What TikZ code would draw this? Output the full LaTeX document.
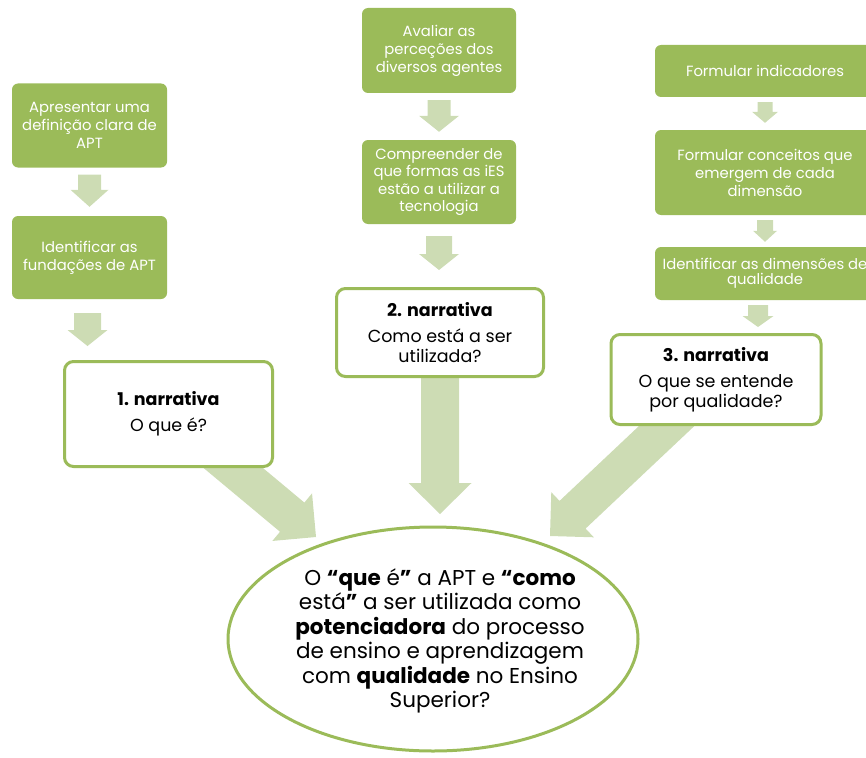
\documentclass[tikz,border=0pt]{standalone}
\usepackage{fontspec}
\setmainfont{Poppins}
\usetikzlibrary{calc,shapes.geometric,backgrounds}

\definecolor{boxgreen}{HTML}{9BBB59}
\definecolor{arrowgreen}{HTML}{CDDCB4}

\tikzset{
  stepbox/.style={rectangle, rounded corners=6pt, fill=boxgreen, text=white,
    align=center, inner sep=2pt,
    font=\fontsize{14.8}{18}\selectfont},
  narrbox/.style={rectangle, rounded corners=9pt, draw=boxgreen, line width=3pt,
    fill=white, text=black, align=center, inner sep=2pt,
    font=\fontsize{17.5}{20}\selectfont},
  goalshape/.style={ellipse, draw=boxgreen, line width=3pt, fill=white, inner sep=0pt},
  arrowfill/.style={fill=arrowgreen},
}

% block arrow: from, to, half shaft width, half head width, head length
\newcommand\blockarrow[5]{%
  \coordinate (ba-h) at ($(#2)!#5!(#1)$);
  \fill[arrowfill] ($(#1)!#3!90:(#2)$) -- ($(ba-h)!#3!90:(#2)$)
    -- ($(ba-h)!#4!90:(#2)$) -- (#2) -- ($(ba-h)!#4!-90:(#2)$)
    -- ($(ba-h)!#3!-90:(#2)$) -- ($(#1)!#3!-90:(#2)$) -- cycle;
}

\begin{document}
\begin{tikzpicture}[x=1pt,y=-1pt]
\useasboundingbox (0,0) rectangle (866,757);
\clip (0,0) rectangle (866,757);

% first column
\node[stepbox, minimum width=155pt, minimum height=84pt] (A1) at (89.5,125.5)
  {Apresentar uma\\definição clara de\\APT};
\node[stepbox, minimum width=155pt, minimum height=83pt] (A2) at (89.5,257.5)
  {Identificar as\\fundações de APT};
\node[narrbox, minimum width=208pt, minimum height=105pt] (N1) at (168.5,414)
  {\textbf{1. narrativa}\\[6pt]O que é?};

% second column
\node[stepbox, minimum width=154pt, minimum height=85pt] (B1) at (439,50.5)
  {Avaliar as\\perceções dos\\diversos agentes};
\node[stepbox, minimum width=154pt, minimum height=84pt, font=\fontsize{14.8}{17.3}\selectfont] (B2) at (439,182)
  {Compreender de\\que formas as iES\\estão a utilizar a\\tecnologia};
\node[narrbox, minimum width=207pt, minimum height=88pt] (N2) at (440,332.5)
  {\textbf{2. narrativa}\\[6pt]Como está a ser\\utilizada?};

% third column
\node[stepbox, minimum width=220pt, minimum height=52pt] (C1) at (765,71)
  {Formular indicadores};
\node[stepbox, minimum width=220pt, minimum height=85pt] (C2) at (765,172.5)
  {Formular conceitos que\\emergem de cada\\dimensão};
\node[stepbox, minimum width=220pt, minimum height=53pt, font=\fontsize{14.8}{15.5}\selectfont] (C3) at (765,273.5)
  {Identificar as dimensões de\\qualidade};
\node[narrbox, minimum width=210pt, minimum height=90pt] (N3) at (716,379.5)
  {\textbf{3. narrativa}\\[6pt]O que se entende\\por qualidade?};

% central question
\node[goalshape, minimum width=410pt, minimum height=224pt] (E) at (433,639) {};
\node[align=center, font=\fontsize{21.5}{24.5}\selectfont] (Et) at (440,641)
  {O \textbf{“que} é\textbf{”} a APT e \textbf{“como}\\
   está\textbf{”} a ser utilizada como\\
   \textbf{potenciadora} do processo\\
   de ensino e aprendizagem\\
   com \textbf{qualidade} no Ensino\\
   Superior?};

% small arrows between steps
\coordinate (a1s) at ([yshift=-7pt]A1.south);
\coordinate (a1e) at ([yshift=9pt]A2.north);
\blockarrow{a1s}{a1e}{11.5pt}{19pt}{17pt}
\coordinate (a2s) at ([xshift=-2pt,yshift=-14pt]A2.south);
\coordinate (a2e) at ([yshift=14pt]a2s |- N1.north);
\blockarrow{a2s}{a2e}{13.5pt}{20pt}{16pt}

\coordinate (b1s) at ([yshift=-7pt]B1.south);
\coordinate (b1e) at ([yshift=8pt]B2.north);
\blockarrow{b1s}{b1e}{11.5pt}{20pt}{16pt}
\coordinate (b2s) at ([yshift=-12pt]B2.south);
\coordinate (b2e) at ([yshift=17pt]b2s |- N2.north);
\blockarrow{b2s}{b2e}{13pt}{20pt}{16pt}

\coordinate (c1s) at ([yshift=-5pt]C1.south);
\coordinate (c1e) at ([yshift=7pt]C2.north);
\blockarrow{c1s}{c1e}{7.5pt}{13pt}{11pt}
\coordinate (c2s) at ([yshift=-5pt]C2.south);
\coordinate (c2e) at ([yshift=5pt]C3.north);
\blockarrow{c2s}{c2e}{8pt}{12pt}{11pt}
\coordinate (c3s) at ([xshift=-7pt,yshift=-5pt]C3.south);
\coordinate (c3e) at ([yshift=6pt]c3s |- N3.north);
\blockarrow{c3s}{c3e}{10pt}{15.5pt}{11pt}

% large arrows from the narratives into the question
\coordinate (t1) at (316,537);
\coordinate (t2) at (440,514);
\coordinate (t3) at (550,536);
\begin{scope}[on background layer]
\blockarrow{N1.center}{t1}{19pt}{31pt}{31pt}
\blockarrow{N2.center}{t2}{19pt}{31.5pt}{31pt}
\blockarrow{N3.center}{t3}{19pt}{31pt}{31pt}
\end{scope}
\end{tikzpicture}
\end{document}
